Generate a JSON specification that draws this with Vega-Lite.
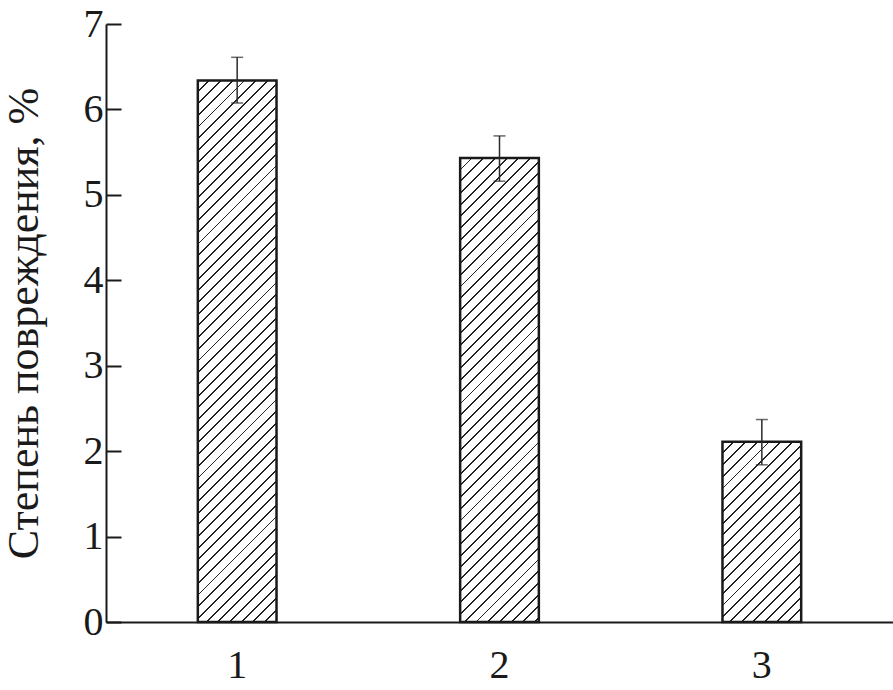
{
  "$schema": "https://vega.github.io/schema/vega-lite/v6.json",
  "width": 787,
  "height": 598,
  "autosize": "none",
  "padding": {"left": 106, "top": 24, "right": 0, "bottom": 68},
  "background": "white",
  "data": {"values": [
    {"g": "1", "v": 6.34, "lo": 6.075, "hi": 6.61},
    {"g": "2", "v": 5.43, "lo": 5.16, "hi": 5.69},
    {"g": "3", "v": 2.11, "lo": 1.84, "hi": 2.37}
  ]},
  "encoding": {
    "x": {"field": "g", "type": "nominal", "title": null, "scale": {"paddingInner": 0.7, "paddingOuter": 0.35}, "axis": {"labelAngle": 0}}
  },
  "layer": [
    {
      "transform": [{"filter": "datum.g == '1'"}],
      "mark": {"type": "bar", "stroke": "#1a1a1a", "strokeWidth": 2.5, "fill": {"gradient": "linear", "x1": 0, "y1": 0, "x2": 0.24591, "y2": 1.6924, "stops": [
        {"offset":0,"color":"#fff"},
        {"offset":0.0115,"color":"#fff"},{"offset":0.0115,"color":"#222"},{"offset":0.0135,"color":"#222"},{"offset":0.0135,"color":"#fff"},
        {"offset":0.024,"color":"#fff"},{"offset":0.024,"color":"#222"},{"offset":0.026,"color":"#222"},{"offset":0.026,"color":"#fff"},
        {"offset":0.0365,"color":"#fff"},{"offset":0.0365,"color":"#222"},{"offset":0.0385,"color":"#222"},{"offset":0.0385,"color":"#fff"},
        {"offset":0.049,"color":"#fff"},{"offset":0.049,"color":"#222"},{"offset":0.051,"color":"#222"},{"offset":0.051,"color":"#fff"},
        {"offset":0.0615,"color":"#fff"},{"offset":0.0615,"color":"#222"},{"offset":0.0635,"color":"#222"},{"offset":0.0635,"color":"#fff"},
        {"offset":0.074,"color":"#fff"},{"offset":0.074,"color":"#222"},{"offset":0.076,"color":"#222"},{"offset":0.076,"color":"#fff"},
        {"offset":0.0865,"color":"#fff"},{"offset":0.0865,"color":"#222"},{"offset":0.0885,"color":"#222"},{"offset":0.0885,"color":"#fff"},
        {"offset":0.099,"color":"#fff"},{"offset":0.099,"color":"#222"},{"offset":0.101,"color":"#222"},{"offset":0.101,"color":"#fff"},
        {"offset":0.1115,"color":"#fff"},{"offset":0.1115,"color":"#222"},{"offset":0.1135,"color":"#222"},{"offset":0.1135,"color":"#fff"},
        {"offset":0.124,"color":"#fff"},{"offset":0.124,"color":"#222"},{"offset":0.126,"color":"#222"},{"offset":0.126,"color":"#fff"},
        {"offset":0.1365,"color":"#fff"},{"offset":0.1365,"color":"#222"},{"offset":0.1385,"color":"#222"},{"offset":0.1385,"color":"#fff"},
        {"offset":0.149,"color":"#fff"},{"offset":0.149,"color":"#222"},{"offset":0.151,"color":"#222"},{"offset":0.151,"color":"#fff"},
        {"offset":0.1615,"color":"#fff"},{"offset":0.1615,"color":"#222"},{"offset":0.1635,"color":"#222"},{"offset":0.1635,"color":"#fff"},
        {"offset":0.174,"color":"#fff"},{"offset":0.174,"color":"#222"},{"offset":0.176,"color":"#222"},{"offset":0.176,"color":"#fff"},
        {"offset":0.1865,"color":"#fff"},{"offset":0.1865,"color":"#222"},{"offset":0.1885,"color":"#222"},{"offset":0.1885,"color":"#fff"},
        {"offset":0.199,"color":"#fff"},{"offset":0.199,"color":"#222"},{"offset":0.201,"color":"#222"},{"offset":0.201,"color":"#fff"},
        {"offset":0.2115,"color":"#fff"},{"offset":0.2115,"color":"#222"},{"offset":0.2135,"color":"#222"},{"offset":0.2135,"color":"#fff"},
        {"offset":0.224,"color":"#fff"},{"offset":0.224,"color":"#222"},{"offset":0.226,"color":"#222"},{"offset":0.226,"color":"#fff"},
        {"offset":0.2365,"color":"#fff"},{"offset":0.2365,"color":"#222"},{"offset":0.2385,"color":"#222"},{"offset":0.2385,"color":"#fff"},
        {"offset":0.249,"color":"#fff"},{"offset":0.249,"color":"#222"},{"offset":0.251,"color":"#222"},{"offset":0.251,"color":"#fff"},
        {"offset":0.2615,"color":"#fff"},{"offset":0.2615,"color":"#222"},{"offset":0.2635,"color":"#222"},{"offset":0.2635,"color":"#fff"},
        {"offset":0.274,"color":"#fff"},{"offset":0.274,"color":"#222"},{"offset":0.276,"color":"#222"},{"offset":0.276,"color":"#fff"},
        {"offset":0.2865,"color":"#fff"},{"offset":0.2865,"color":"#222"},{"offset":0.2885,"color":"#222"},{"offset":0.2885,"color":"#fff"},
        {"offset":0.299,"color":"#fff"},{"offset":0.299,"color":"#222"},{"offset":0.301,"color":"#222"},{"offset":0.301,"color":"#fff"},
        {"offset":0.3115,"color":"#fff"},{"offset":0.3115,"color":"#222"},{"offset":0.3135,"color":"#222"},{"offset":0.3135,"color":"#fff"},
        {"offset":0.324,"color":"#fff"},{"offset":0.324,"color":"#222"},{"offset":0.326,"color":"#222"},{"offset":0.326,"color":"#fff"},
        {"offset":0.3365,"color":"#fff"},{"offset":0.3365,"color":"#222"},{"offset":0.3385,"color":"#222"},{"offset":0.3385,"color":"#fff"},
        {"offset":0.349,"color":"#fff"},{"offset":0.349,"color":"#222"},{"offset":0.351,"color":"#222"},{"offset":0.351,"color":"#fff"},
        {"offset":0.3615,"color":"#fff"},{"offset":0.3615,"color":"#222"},{"offset":0.3635,"color":"#222"},{"offset":0.3635,"color":"#fff"},
        {"offset":0.374,"color":"#fff"},{"offset":0.374,"color":"#222"},{"offset":0.376,"color":"#222"},{"offset":0.376,"color":"#fff"},
        {"offset":0.3865,"color":"#fff"},{"offset":0.3865,"color":"#222"},{"offset":0.3885,"color":"#222"},{"offset":0.3885,"color":"#fff"},
        {"offset":0.399,"color":"#fff"},{"offset":0.399,"color":"#222"},{"offset":0.401,"color":"#222"},{"offset":0.401,"color":"#fff"},
        {"offset":0.4115,"color":"#fff"},{"offset":0.4115,"color":"#222"},{"offset":0.4135,"color":"#222"},{"offset":0.4135,"color":"#fff"},
        {"offset":0.424,"color":"#fff"},{"offset":0.424,"color":"#222"},{"offset":0.426,"color":"#222"},{"offset":0.426,"color":"#fff"},
        {"offset":0.4365,"color":"#fff"},{"offset":0.4365,"color":"#222"},{"offset":0.4385,"color":"#222"},{"offset":0.4385,"color":"#fff"},
        {"offset":0.449,"color":"#fff"},{"offset":0.449,"color":"#222"},{"offset":0.451,"color":"#222"},{"offset":0.451,"color":"#fff"},
        {"offset":0.4615,"color":"#fff"},{"offset":0.4615,"color":"#222"},{"offset":0.4635,"color":"#222"},{"offset":0.4635,"color":"#fff"},
        {"offset":0.474,"color":"#fff"},{"offset":0.474,"color":"#222"},{"offset":0.476,"color":"#222"},{"offset":0.476,"color":"#fff"},
        {"offset":0.4865,"color":"#fff"},{"offset":0.4865,"color":"#222"},{"offset":0.4885,"color":"#222"},{"offset":0.4885,"color":"#fff"},
        {"offset":0.499,"color":"#fff"},{"offset":0.499,"color":"#222"},{"offset":0.501,"color":"#222"},{"offset":0.501,"color":"#fff"},
        {"offset":0.5115,"color":"#fff"},{"offset":0.5115,"color":"#222"},{"offset":0.5135,"color":"#222"},{"offset":0.5135,"color":"#fff"},
        {"offset":0.524,"color":"#fff"},{"offset":0.524,"color":"#222"},{"offset":0.526,"color":"#222"},{"offset":0.526,"color":"#fff"},
        {"offset":0.5365,"color":"#fff"},{"offset":0.5365,"color":"#222"},{"offset":0.5385,"color":"#222"},{"offset":0.5385,"color":"#fff"},
        {"offset":0.549,"color":"#fff"},{"offset":0.549,"color":"#222"},{"offset":0.551,"color":"#222"},{"offset":0.551,"color":"#fff"},
        {"offset":0.5615,"color":"#fff"},{"offset":0.5615,"color":"#222"},{"offset":0.5635,"color":"#222"},{"offset":0.5635,"color":"#fff"},
        {"offset":0.574,"color":"#fff"},{"offset":0.574,"color":"#222"},{"offset":0.576,"color":"#222"},{"offset":0.576,"color":"#fff"},
        {"offset":0.5865,"color":"#fff"},{"offset":0.5865,"color":"#222"},{"offset":0.5885,"color":"#222"},{"offset":0.5885,"color":"#fff"},
        {"offset":0.599,"color":"#fff"},{"offset":0.599,"color":"#222"},{"offset":0.601,"color":"#222"},{"offset":0.601,"color":"#fff"},
        {"offset":0.6115,"color":"#fff"},{"offset":0.6115,"color":"#222"},{"offset":0.6135,"color":"#222"},{"offset":0.6135,"color":"#fff"},
        {"offset":0.624,"color":"#fff"},{"offset":0.624,"color":"#222"},{"offset":0.626,"color":"#222"},{"offset":0.626,"color":"#fff"},
        {"offset":0.6365,"color":"#fff"},{"offset":0.6365,"color":"#222"},{"offset":0.6385,"color":"#222"},{"offset":0.6385,"color":"#fff"},
        {"offset":0.649,"color":"#fff"},{"offset":0.649,"color":"#222"},{"offset":0.651,"color":"#222"},{"offset":0.651,"color":"#fff"},
        {"offset":0.6615,"color":"#fff"},{"offset":0.6615,"color":"#222"},{"offset":0.6635,"color":"#222"},{"offset":0.6635,"color":"#fff"}
      ]}},
      "encoding": {"y": {"field": "v", "type": "quantitative", "title": "Степень повреждения, %", "scale": {"domain": [0, 7]}, "axis": {"values": [0, 1, 2, 3, 4, 5, 6, 7]}}}
    },
    {
      "transform": [{"filter": "datum.g == '2'"}],
      "mark": {"type": "bar", "stroke": "#1a1a1a", "strokeWidth": 2.5, "fill": {"gradient": "linear", "x1": 0, "y1": 0, "x2": 0.33277, "y2": 1.96138, "stops": [
        {"offset":0,"color":"#fff"},
        {"offset":0.0115,"color":"#fff"},{"offset":0.0115,"color":"#222"},{"offset":0.0135,"color":"#222"},{"offset":0.0135,"color":"#fff"},
        {"offset":0.024,"color":"#fff"},{"offset":0.024,"color":"#222"},{"offset":0.026,"color":"#222"},{"offset":0.026,"color":"#fff"},
        {"offset":0.0365,"color":"#fff"},{"offset":0.0365,"color":"#222"},{"offset":0.0385,"color":"#222"},{"offset":0.0385,"color":"#fff"},
        {"offset":0.049,"color":"#fff"},{"offset":0.049,"color":"#222"},{"offset":0.051,"color":"#222"},{"offset":0.051,"color":"#fff"},
        {"offset":0.0615,"color":"#fff"},{"offset":0.0615,"color":"#222"},{"offset":0.0635,"color":"#222"},{"offset":0.0635,"color":"#fff"},
        {"offset":0.074,"color":"#fff"},{"offset":0.074,"color":"#222"},{"offset":0.076,"color":"#222"},{"offset":0.076,"color":"#fff"},
        {"offset":0.0865,"color":"#fff"},{"offset":0.0865,"color":"#222"},{"offset":0.0885,"color":"#222"},{"offset":0.0885,"color":"#fff"},
        {"offset":0.099,"color":"#fff"},{"offset":0.099,"color":"#222"},{"offset":0.101,"color":"#222"},{"offset":0.101,"color":"#fff"},
        {"offset":0.1115,"color":"#fff"},{"offset":0.1115,"color":"#222"},{"offset":0.1135,"color":"#222"},{"offset":0.1135,"color":"#fff"},
        {"offset":0.124,"color":"#fff"},{"offset":0.124,"color":"#222"},{"offset":0.126,"color":"#222"},{"offset":0.126,"color":"#fff"},
        {"offset":0.1365,"color":"#fff"},{"offset":0.1365,"color":"#222"},{"offset":0.1385,"color":"#222"},{"offset":0.1385,"color":"#fff"},
        {"offset":0.149,"color":"#fff"},{"offset":0.149,"color":"#222"},{"offset":0.151,"color":"#222"},{"offset":0.151,"color":"#fff"},
        {"offset":0.1615,"color":"#fff"},{"offset":0.1615,"color":"#222"},{"offset":0.1635,"color":"#222"},{"offset":0.1635,"color":"#fff"},
        {"offset":0.174,"color":"#fff"},{"offset":0.174,"color":"#222"},{"offset":0.176,"color":"#222"},{"offset":0.176,"color":"#fff"},
        {"offset":0.1865,"color":"#fff"},{"offset":0.1865,"color":"#222"},{"offset":0.1885,"color":"#222"},{"offset":0.1885,"color":"#fff"},
        {"offset":0.199,"color":"#fff"},{"offset":0.199,"color":"#222"},{"offset":0.201,"color":"#222"},{"offset":0.201,"color":"#fff"},
        {"offset":0.2115,"color":"#fff"},{"offset":0.2115,"color":"#222"},{"offset":0.2135,"color":"#222"},{"offset":0.2135,"color":"#fff"},
        {"offset":0.224,"color":"#fff"},{"offset":0.224,"color":"#222"},{"offset":0.226,"color":"#222"},{"offset":0.226,"color":"#fff"},
        {"offset":0.2365,"color":"#fff"},{"offset":0.2365,"color":"#222"},{"offset":0.2385,"color":"#222"},{"offset":0.2385,"color":"#fff"},
        {"offset":0.249,"color":"#fff"},{"offset":0.249,"color":"#222"},{"offset":0.251,"color":"#222"},{"offset":0.251,"color":"#fff"},
        {"offset":0.2615,"color":"#fff"},{"offset":0.2615,"color":"#222"},{"offset":0.2635,"color":"#222"},{"offset":0.2635,"color":"#fff"},
        {"offset":0.274,"color":"#fff"},{"offset":0.274,"color":"#222"},{"offset":0.276,"color":"#222"},{"offset":0.276,"color":"#fff"},
        {"offset":0.2865,"color":"#fff"},{"offset":0.2865,"color":"#222"},{"offset":0.2885,"color":"#222"},{"offset":0.2885,"color":"#fff"},
        {"offset":0.299,"color":"#fff"},{"offset":0.299,"color":"#222"},{"offset":0.301,"color":"#222"},{"offset":0.301,"color":"#fff"},
        {"offset":0.3115,"color":"#fff"},{"offset":0.3115,"color":"#222"},{"offset":0.3135,"color":"#222"},{"offset":0.3135,"color":"#fff"},
        {"offset":0.324,"color":"#fff"},{"offset":0.324,"color":"#222"},{"offset":0.326,"color":"#222"},{"offset":0.326,"color":"#fff"},
        {"offset":0.3365,"color":"#fff"},{"offset":0.3365,"color":"#222"},{"offset":0.3385,"color":"#222"},{"offset":0.3385,"color":"#fff"},
        {"offset":0.349,"color":"#fff"},{"offset":0.349,"color":"#222"},{"offset":0.351,"color":"#222"},{"offset":0.351,"color":"#fff"},
        {"offset":0.3615,"color":"#fff"},{"offset":0.3615,"color":"#222"},{"offset":0.3635,"color":"#222"},{"offset":0.3635,"color":"#fff"},
        {"offset":0.374,"color":"#fff"},{"offset":0.374,"color":"#222"},{"offset":0.376,"color":"#222"},{"offset":0.376,"color":"#fff"},
        {"offset":0.3865,"color":"#fff"},{"offset":0.3865,"color":"#222"},{"offset":0.3885,"color":"#222"},{"offset":0.3885,"color":"#fff"},
        {"offset":0.399,"color":"#fff"},{"offset":0.399,"color":"#222"},{"offset":0.401,"color":"#222"},{"offset":0.401,"color":"#fff"},
        {"offset":0.4115,"color":"#fff"},{"offset":0.4115,"color":"#222"},{"offset":0.4135,"color":"#222"},{"offset":0.4135,"color":"#fff"},
        {"offset":0.424,"color":"#fff"},{"offset":0.424,"color":"#222"},{"offset":0.426,"color":"#222"},{"offset":0.426,"color":"#fff"},
        {"offset":0.4365,"color":"#fff"},{"offset":0.4365,"color":"#222"},{"offset":0.4385,"color":"#222"},{"offset":0.4385,"color":"#fff"},
        {"offset":0.449,"color":"#fff"},{"offset":0.449,"color":"#222"},{"offset":0.451,"color":"#222"},{"offset":0.451,"color":"#fff"},
        {"offset":0.4615,"color":"#fff"},{"offset":0.4615,"color":"#222"},{"offset":0.4635,"color":"#222"},{"offset":0.4635,"color":"#fff"},
        {"offset":0.474,"color":"#fff"},{"offset":0.474,"color":"#222"},{"offset":0.476,"color":"#222"},{"offset":0.476,"color":"#fff"},
        {"offset":0.4865,"color":"#fff"},{"offset":0.4865,"color":"#222"},{"offset":0.4885,"color":"#222"},{"offset":0.4885,"color":"#fff"},
        {"offset":0.499,"color":"#fff"},{"offset":0.499,"color":"#222"},{"offset":0.501,"color":"#222"},{"offset":0.501,"color":"#fff"},
        {"offset":0.5115,"color":"#fff"},{"offset":0.5115,"color":"#222"},{"offset":0.5135,"color":"#222"},{"offset":0.5135,"color":"#fff"},
        {"offset":0.524,"color":"#fff"},{"offset":0.524,"color":"#222"},{"offset":0.526,"color":"#222"},{"offset":0.526,"color":"#fff"},
        {"offset":0.5365,"color":"#fff"},{"offset":0.5365,"color":"#222"},{"offset":0.5385,"color":"#222"},{"offset":0.5385,"color":"#fff"},
        {"offset":0.549,"color":"#fff"},{"offset":0.549,"color":"#222"},{"offset":0.551,"color":"#222"},{"offset":0.551,"color":"#fff"},
        {"offset":0.5615,"color":"#fff"},{"offset":0.5615,"color":"#222"},{"offset":0.5635,"color":"#222"},{"offset":0.5635,"color":"#fff"},
        {"offset":0.574,"color":"#fff"},{"offset":0.574,"color":"#222"},{"offset":0.576,"color":"#222"},{"offset":0.576,"color":"#fff"}
      ]}},
      "encoding": {"y": {"field": "v", "type": "quantitative", "title": "Степень повреждения, %", "scale": {"domain": [0, 7]}, "axis": {"values": [0, 1, 2, 3, 4, 5, 6, 7]}}}
    },
    {
      "transform": [{"filter": "datum.g == '3'"}],
      "mark": {"type": "bar", "stroke": "#1a1a1a", "strokeWidth": 2.5, "fill": {"gradient": "linear", "x1": 0, "y1": 0, "x2": 1.90423, "y2": 4.36133, "stops": [
        {"offset":0,"color":"#fff"},
        {"offset":0.0115,"color":"#fff"},{"offset":0.0115,"color":"#222"},{"offset":0.0135,"color":"#222"},{"offset":0.0135,"color":"#fff"},
        {"offset":0.024,"color":"#fff"},{"offset":0.024,"color":"#222"},{"offset":0.026,"color":"#222"},{"offset":0.026,"color":"#fff"},
        {"offset":0.0365,"color":"#fff"},{"offset":0.0365,"color":"#222"},{"offset":0.0385,"color":"#222"},{"offset":0.0385,"color":"#fff"},
        {"offset":0.049,"color":"#fff"},{"offset":0.049,"color":"#222"},{"offset":0.051,"color":"#222"},{"offset":0.051,"color":"#fff"},
        {"offset":0.0615,"color":"#fff"},{"offset":0.0615,"color":"#222"},{"offset":0.0635,"color":"#222"},{"offset":0.0635,"color":"#fff"},
        {"offset":0.074,"color":"#fff"},{"offset":0.074,"color":"#222"},{"offset":0.076,"color":"#222"},{"offset":0.076,"color":"#fff"},
        {"offset":0.0865,"color":"#fff"},{"offset":0.0865,"color":"#222"},{"offset":0.0885,"color":"#222"},{"offset":0.0885,"color":"#fff"},
        {"offset":0.099,"color":"#fff"},{"offset":0.099,"color":"#222"},{"offset":0.101,"color":"#222"},{"offset":0.101,"color":"#fff"},
        {"offset":0.1115,"color":"#fff"},{"offset":0.1115,"color":"#222"},{"offset":0.1135,"color":"#222"},{"offset":0.1135,"color":"#fff"},
        {"offset":0.124,"color":"#fff"},{"offset":0.124,"color":"#222"},{"offset":0.126,"color":"#222"},{"offset":0.126,"color":"#fff"},
        {"offset":0.1365,"color":"#fff"},{"offset":0.1365,"color":"#222"},{"offset":0.1385,"color":"#222"},{"offset":0.1385,"color":"#fff"},
        {"offset":0.149,"color":"#fff"},{"offset":0.149,"color":"#222"},{"offset":0.151,"color":"#222"},{"offset":0.151,"color":"#fff"},
        {"offset":0.1615,"color":"#fff"},{"offset":0.1615,"color":"#222"},{"offset":0.1635,"color":"#222"},{"offset":0.1635,"color":"#fff"},
        {"offset":0.174,"color":"#fff"},{"offset":0.174,"color":"#222"},{"offset":0.176,"color":"#222"},{"offset":0.176,"color":"#fff"},
        {"offset":0.1865,"color":"#fff"},{"offset":0.1865,"color":"#222"},{"offset":0.1885,"color":"#222"},{"offset":0.1885,"color":"#fff"},
        {"offset":0.199,"color":"#fff"},{"offset":0.199,"color":"#222"},{"offset":0.201,"color":"#222"},{"offset":0.201,"color":"#fff"},
        {"offset":0.2115,"color":"#fff"},{"offset":0.2115,"color":"#222"},{"offset":0.2135,"color":"#222"},{"offset":0.2135,"color":"#fff"},
        {"offset":0.224,"color":"#fff"},{"offset":0.224,"color":"#222"},{"offset":0.226,"color":"#222"},{"offset":0.226,"color":"#fff"},
        {"offset":0.2365,"color":"#fff"},{"offset":0.2365,"color":"#222"},{"offset":0.2385,"color":"#222"},{"offset":0.2385,"color":"#fff"},
        {"offset":0.249,"color":"#fff"},{"offset":0.249,"color":"#222"},{"offset":0.251,"color":"#222"},{"offset":0.251,"color":"#fff"},
        {"offset":0.2615,"color":"#fff"},{"offset":0.2615,"color":"#222"},{"offset":0.2635,"color":"#222"},{"offset":0.2635,"color":"#fff"},
        {"offset":0.274,"color":"#fff"},{"offset":0.274,"color":"#222"},{"offset":0.276,"color":"#222"},{"offset":0.276,"color":"#fff"}
      ]}},
      "encoding": {"y": {"field": "v", "type": "quantitative", "title": "Степень повреждения, %", "scale": {"domain": [0, 7]}, "axis": {"values": [0, 1, 2, 3, 4, 5, 6, 7]}}}
    },
    {
      "mark": {"type": "rule", "color": "#2a2a2a", "strokeWidth": 1.5},
      "encoding": {
        "y": {"field": "lo", "type": "quantitative", "title": "Степень повреждения, %", "axis": {"values": [0, 1, 2, 3, 4, 5, 6, 7]}},
        "y2": {"field": "hi"}
      }
    },
    {
      "mark": {"type": "tick", "color": "#2a2a2a", "thickness": 1.5, "size": 12},
      "encoding": {"y": {"field": "lo", "type": "quantitative", "title": "Степень повреждения, %", "axis": {"values": [0, 1, 2, 3, 4, 5, 6, 7]}}}
    },
    {
      "mark": {"type": "tick", "color": "#2a2a2a", "thickness": 1.5, "size": 12},
      "encoding": {"y": {"field": "hi", "type": "quantitative", "title": "Степень повреждения, %", "axis": {"values": [0, 1, 2, 3, 4, 5, 6, 7]}}}
    }
  ],
  "config": {
    "view": {"stroke": null},
    "axis": {
      "grid": false,
      "domainColor": "#1a1a1a",
      "domainWidth": 2,
      "tickColor": "#1a1a1a",
      "tickWidth": 2,
      "labelFont": "Liberation Serif, Times New Roman, Times, serif",
      "labelFontSize": 40,
      "labelColor": "#1a1a1a",
      "titleFont": "Liberation Serif, Times New Roman, Times, serif",
      "titleFontSize": 44,
      "titleFontWeight": "normal",
      "titleColor": "#1a1a1a"
    },
    "axisY": {"tickSize": -15, "labelPadding": 18, "titleX": -69, "titleBaseline": "alphabetic"},
    "axisX": {"ticks": false, "labelPadding": 23}
  }
}
